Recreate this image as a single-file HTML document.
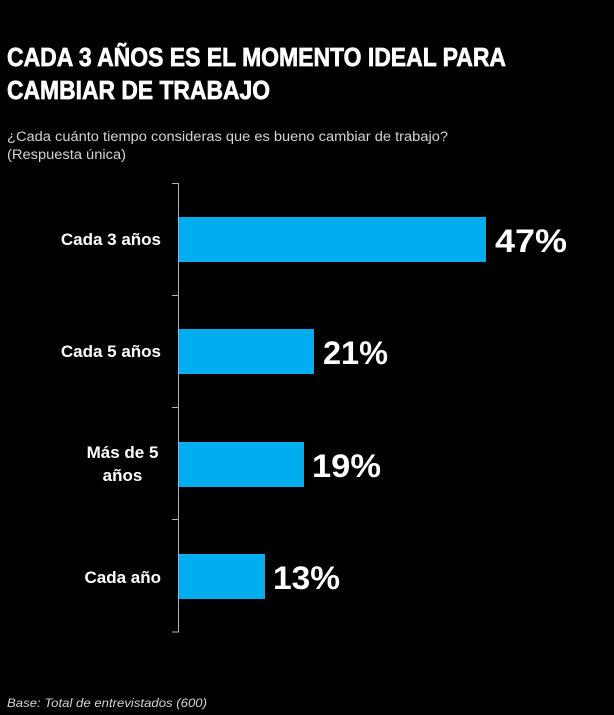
<!DOCTYPE html>
<html>
<head>
<meta charset="utf-8">
<style>
  html, body { margin: 0; padding: 0; background: #000; }
  body { width: 614px; height: 715px; overflow: hidden; }
  svg { display: block; }
  text { font-family: "Liberation Sans", "DejaVu Sans", sans-serif; }
</style>
</head>
<body>
<svg width="614" height="715" viewBox="0 0 614 715" xmlns="http://www.w3.org/2000/svg">
  <rect x="0" y="0" width="614" height="715" fill="#000"/>

  <!-- Title -->
  <text x="7" y="66" font-size="26" font-weight="bold" fill="#fff" stroke="#fff" stroke-width="0.7" textLength="499" lengthAdjust="spacingAndGlyphs">CADA 3 AÑOS ES EL MOMENTO IDEAL PARA</text>
  <text x="7" y="99" font-size="26" font-weight="bold" fill="#fff" stroke="#fff" stroke-width="0.7" textLength="263" lengthAdjust="spacingAndGlyphs">CAMBIAR DE TRABAJO</text>

  <!-- Subtitle -->
  <text x="7" y="141" font-size="13.5" fill="#d4d4d4" textLength="441" lengthAdjust="spacingAndGlyphs">¿Cada cuánto tiempo consideras que es bueno cambiar de trabajo?</text>
  <text x="7" y="159" font-size="13.5" fill="#d4d4d4" textLength="119" lengthAdjust="spacingAndGlyphs">(Respuesta única)</text>

  <!-- Axis -->
  <line x1="178.5" y1="183" x2="178.5" y2="632.5" stroke="#b0b0b0" stroke-width="1"/>
  <line x1="172" y1="183.5" x2="178.5" y2="183.5" stroke="#b0b0b0" stroke-width="1"/>
  <line x1="172" y1="295.5" x2="178.5" y2="295.5" stroke="#b0b0b0" stroke-width="1"/>
  <line x1="172" y1="407.5" x2="178.5" y2="407.5" stroke="#b0b0b0" stroke-width="1"/>
  <line x1="172" y1="519.5" x2="178.5" y2="519.5" stroke="#b0b0b0" stroke-width="1"/>
  <line x1="172" y1="632" x2="178.5" y2="632" stroke="#b0b0b0" stroke-width="1"/>

  <!-- Bars -->
  <rect x="179" y="217" width="307" height="45" fill="#00aeef"/>
  <rect x="179" y="329" width="135" height="45" fill="#00aeef"/>
  <rect x="179" y="442" width="125" height="45" fill="#00aeef"/>
  <rect x="179" y="554" width="86" height="45" fill="#00aeef"/>

  <!-- Category labels -->
  <text x="161" y="245" font-size="17" font-weight="bold" fill="#fff" text-anchor="end">Cada 3 años</text>
  <text x="161" y="357" font-size="17" font-weight="bold" fill="#fff" text-anchor="end">Cada 5 años</text>
  <text x="122.5" y="458" font-size="17" font-weight="bold" fill="#fff" text-anchor="middle">Más de 5</text>
  <text x="122.5" y="481" font-size="17" font-weight="bold" fill="#fff" text-anchor="middle">años</text>
  <text x="161" y="583" font-size="17" font-weight="bold" fill="#fff" text-anchor="end">Cada año</text>

  <!-- Value labels -->
  <text x="495" y="252" font-size="32" font-weight="bold" fill="#fff" textLength="72" lengthAdjust="spacingAndGlyphs">47%</text>
  <text x="323" y="364" font-size="32" font-weight="bold" fill="#fff" textLength="65" lengthAdjust="spacingAndGlyphs">21%</text>
  <text x="312" y="477" font-size="32" font-weight="bold" fill="#fff" textLength="69" lengthAdjust="spacingAndGlyphs">19%</text>
  <text x="273" y="589" font-size="32" font-weight="bold" fill="#fff" textLength="67" lengthAdjust="spacingAndGlyphs">13%</text>

  <!-- Footer -->
  <text x="7" y="707" font-size="12" font-style="italic" fill="#d4d4d4" textLength="200" lengthAdjust="spacingAndGlyphs">Base: Total de entrevistados (600)</text>
</svg>
</body>
</html>
